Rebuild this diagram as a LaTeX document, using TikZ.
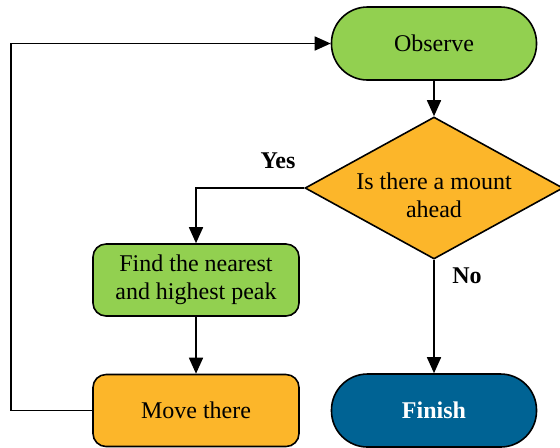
\documentclass[tikz,border=0pt]{standalone}
\usepackage{fontspec}
\setmainfont{Liberation Serif}
\usepackage{xcolor}
\usetikzlibrary{arrows.meta,positioning,shapes.geometric}
\definecolor{leafgreen}{RGB}{146,208,80}
\definecolor{amber}{RGB}{252,182,42}
\definecolor{deepblue}{RGB}{0,99,148}

\begin{document}
\begin{tikzpicture}[x=0.5pt,y=-0.5pt,
    line width=0.8pt,
    every node/.style={font=\fontsize{12}{14}\selectfont},
    terminal/.style={draw,rectangle,rounded corners=18pt,minimum width=102.5pt,minimum height=36.5pt,inner sep=0pt},
    process/.style={draw,rectangle,rounded corners=6.5pt,minimum width=103pt,minimum height=36pt,inner sep=0pt,align=center},
    decision/.style={draw,diamond,aspect=1.8,inner sep=0pt,minimum width=129pt,minimum height=71pt,align=center,fill=amber},
    answer/.style={font=\fontsize{12}{14}\selectfont\bfseries},
    arr/.style={-{Triangle[length=8pt,width=7pt]}}]
    \useasboundingbox (0,0) rectangle (560,447);
    {
    
    % Drawing node observe
    \node [terminal,fill=leafgreen] (observe) at (434,43.5) {Observe};%
    
    % Drawing node ask
    \node [decision,label={[align=center,yshift=-3.5pt]center:Is there a mount\\ahead}] (ask) at (434,188) {};%
    
    % Drawing node find
    \node [process,fill=leafgreen] (find) at (196,280) {Find the nearest\\and highest peak};%
    
    % Drawing node move
    \node [process,fill=amber] (move) at (196,410.5) {Move there};%
    
    % Drawing node finish
    \node [terminal,fill=deepblue,text=white,answer] (finish) at (434,410.5) {Finish};%
    
    % Drawing arrow observe ask
    \draw [arr] (observe.south) -- (ask.north);%
    
    % Drawing arrow ask find
    \draw [arr] (ask.west) -| (find.north);%
    
    % Drawing arrow ask finish
    \draw [arr] (ask.south) -- (finish.north);%
    
    % Drawing arrow find move
    \draw [arr] (find.south) -- (move.north);%
    
    % Drawing arrow move observe
    \coordinate (back) at (11,0);%
    \draw [arr] (move.west) -- (move.west -| back) |- (observe.west);%
    
    % Marking point {Yes}
    \node [answer] (yes) at (278,161) {Yes};%
    
    % Marking point {No}
    \node [answer] (no) at (467,276) {No};%
    }
\end{tikzpicture}
\end{document}
